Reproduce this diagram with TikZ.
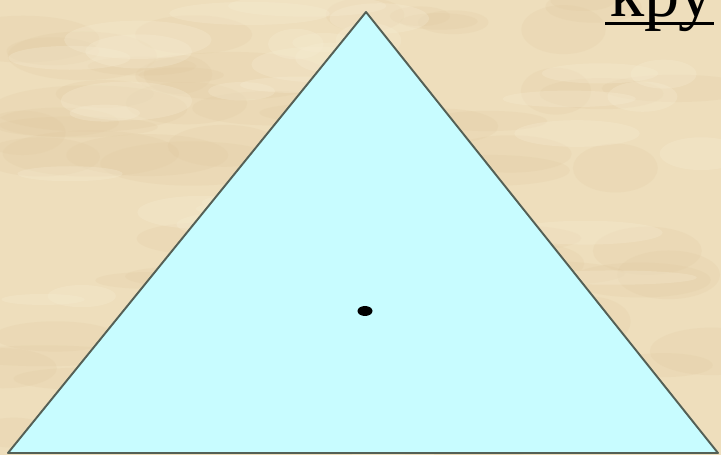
\documentclass[tikz,border=0pt]{standalone}
\usepackage{fontspec}
\setmainfont{Liberation Serif}
\usepackage{tikz}
\usetikzlibrary{calc,shapes.geometric}

\definecolor{paper}{RGB}{238,222,188}
\definecolor{paperdark}{RGB}{222,198,156}
\definecolor{paperlight}{RGB}{246,236,210}
\definecolor{skyfill}{RGB}{200,252,255}
\definecolor{edgegray}{RGB}{84,96,86}

\begin{document}
\begin{tikzpicture}[x=1cm,y=1cm]
    \clip (0,0) rectangle (14.42,9.1);
    \fill[paper] (0,0) rectangle (14.42,9.1);
    % paper texture
    \pgfmathsetseed{7}
    \foreach \i in {1,...,70} {
        \pgfmathsetmacro{\px}{rnd*14.42}
        \pgfmathsetmacro{\py}{rnd*9.1}
        \pgfmathsetmacro{\rx}{0.6+rnd*1.4}
        \pgfmathsetmacro{\ry}{0.15+rnd*0.35}
        \fill[paperdark,opacity=0.18] (\px,\py) ellipse ({\rx} and {\ry});
    }
    \foreach \i in {1,...,50} {
        \pgfmathsetmacro{\px}{rnd*14.42}
        \pgfmathsetmacro{\py}{rnd*9.1}
        \pgfmathsetmacro{\rx}{0.5+rnd*1.2}
        \pgfmathsetmacro{\ry}{0.1+rnd*0.3}
        \fill[paperlight,opacity=0.3] (\px,\py) ellipse ({\rx} and {\ry});
    }
    \coordinate (apex) at (7.32,8.86);
    \coordinate (left) at (0.16,0.04);
    \coordinate (right) at (14.36,0.04);
    \draw[edgegray,fill=skyfill,line width=1.1pt,line join=round] (left) -- (apex) -- (right) -- cycle;
    \node[fill=black,ellipse,minimum width=0.3cm,minimum height=0.2cm,inner sep=0pt] (centre) at (7.30,2.88) {};
    \node[anchor=base west,inner sep=0pt,font=\fontsize{40}{46}\selectfont] (label) at (12.2,8.76) {кру};
    \draw[line width=0.06cm] ([yshift=-0.14cm,xshift=-0.1cm]label.base west) -- ([yshift=-0.14cm]label.base east);
\end{tikzpicture}
\end{document}
